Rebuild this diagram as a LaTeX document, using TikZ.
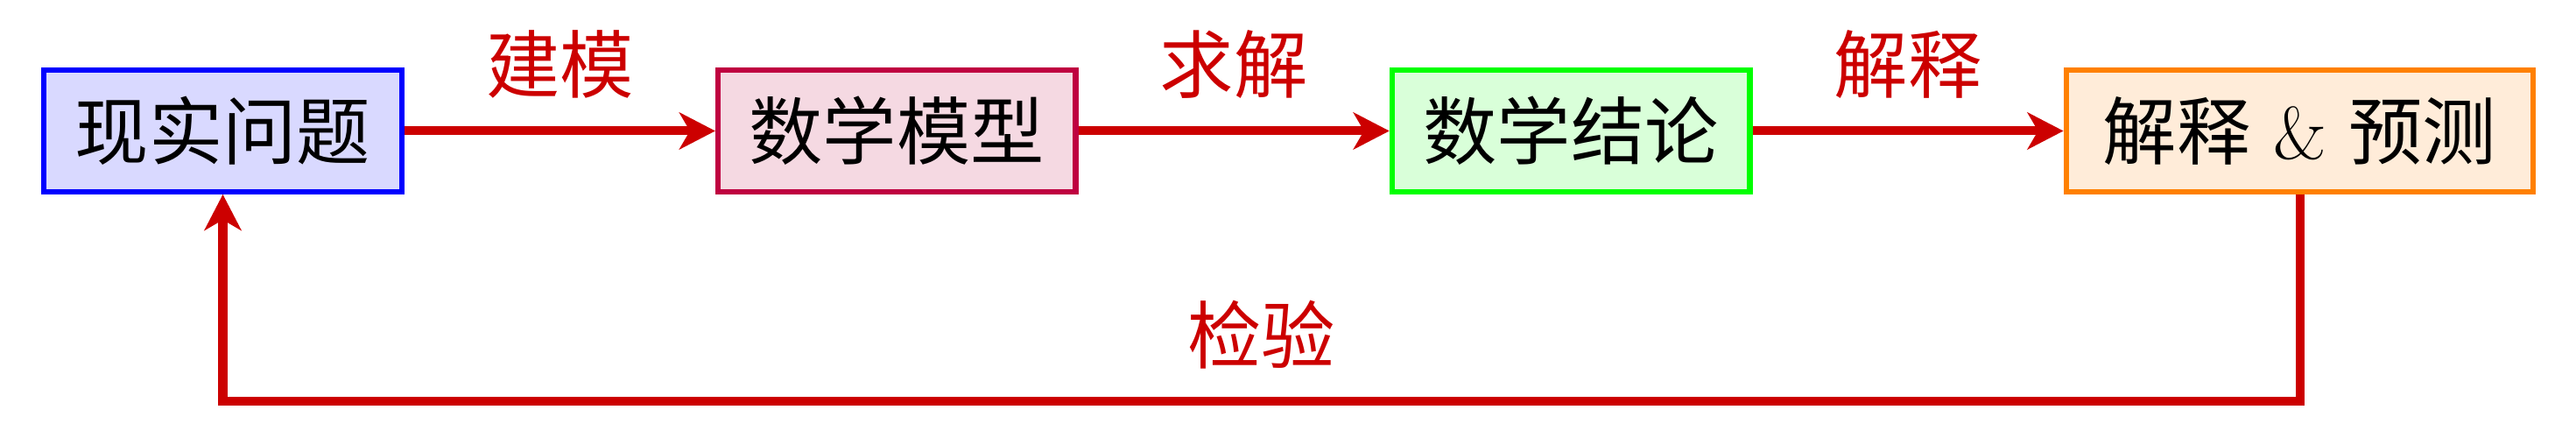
\documentclass[tikz,border=0pt]{standalone}
\usepackage{fontspec}
\newfontfamily\cjk{Noto Sans CJK SC}
\usetikzlibrary{positioning,arrows.meta}
\definecolor{arrowred}{HTML}{CC0000}

\begin{document}
\begin{tikzpicture}[
		stage/.style={draw=#1,fill=#1!15,line width=1.8pt,minimum width=4.085cm,minimum height=1.385cm,inner sep=0pt,font=\fontsize{24}{28}\selectfont\cjk},
		flow/.style={draw=arrowred,line width=2.85pt,-{Stealth[length=4.1mm,width=4.2mm,inset=1.2mm]}},
		tag/.style={text=arrowred,font=\fontsize{24}{28}\selectfont\cjk,inner sep=0pt,above=3.2mm}]
	\useasboundingbox (0,0) rectangle (29.42,5);
	\node[stage=blue] (real) at (2.545,3.505) {现实问题};
	\node[stage=purple,right=3.55cm of real] (model) {数学模型};
	\node[stage=green,right=3.55cm of model] (result) {数学结论};
	\node[stage=orange,right=3.55cm of result,minimum width=5.335cm] (predict) {解释{\rmfamily\ \&\ }预测};
	\coordinate (back) at (0,0.42);
	\draw[flow] (real) -- node[tag] {建模} (model);
	\draw[flow] (model) -- node[tag] {求解} (result);
	\draw[flow] (result) -- node[tag] {解释} (predict);
	\draw[flow] (predict.south) -- (predict.south |- back) -- node[tag] {检验} (real.south |- back) -- (real.south);
\end{tikzpicture}
\end{document}
